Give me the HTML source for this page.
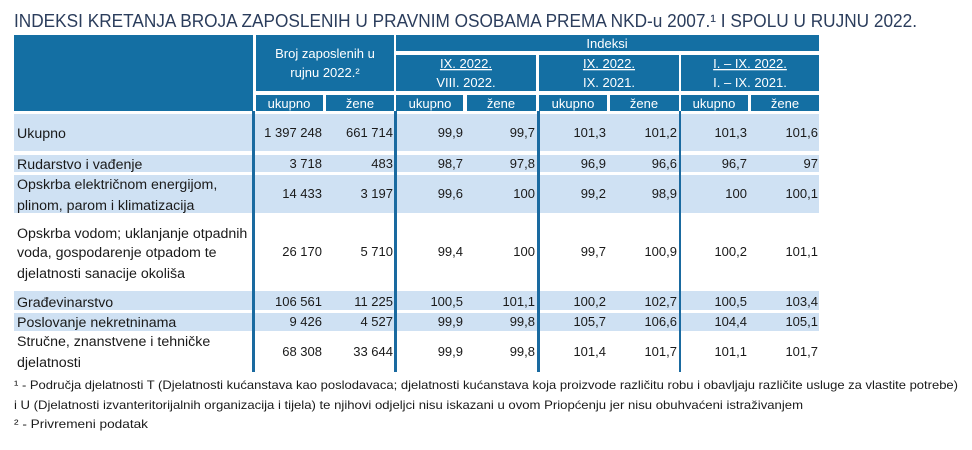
<!DOCTYPE html>
<html><head><meta charset="utf-8"><style>
html,body{margin:0;padding:0;background:#fff;width:972px;height:450px;overflow:hidden}
svg{display:block}
text{font-family:"Liberation Sans",sans-serif}
.h{fill:#fff;font-size:13px;text-anchor:middle}
.d{fill:#1a1a1a;font-size:13px}
.l{fill:#1a1a1a;font-size:14.2px}
.r{text-anchor:end}
.f{fill:#1a1a1a;font-size:12px}
</style></head><body>
<svg width="972" height="450" viewBox="0 0 972 450" xmlns="http://www.w3.org/2000/svg">
<text x="14" y="27" font-size="18" fill="#2b3d5c" textLength="903" lengthAdjust="spacingAndGlyphs">INDEKSI KRETANJA BROJA ZAPOSLENIH U PRAVNIM OSOBAMA PREMA NKD-u 2007.¹ I SPOLU U RUJNU 2022.</text>
<g fill="#146fa3">
<rect x="14" y="35" width="239" height="76"/>
<rect x="256" y="35" width="138" height="56"/>
<rect x="256" y="95" width="67" height="16"/>
<rect x="326" y="95" width="68" height="16"/>
<rect x="396" y="35" width="423" height="16"/>
<rect x="396" y="55" width="140" height="36"/>
<rect x="539" y="55" width="140" height="36"/>
<rect x="681" y="55" width="138" height="36"/>
<rect x="396" y="95" width="67" height="16"/>
<rect x="467" y="95" width="69" height="16"/>
<rect x="539" y="95" width="68" height="16"/>
<rect x="610" y="95" width="69" height="16"/>
<rect x="681" y="95" width="67" height="16"/>
<rect x="751" y="95" width="68" height="16"/>
</g>
<g fill="#cfe1f3">
<rect x="14" y="114" width="805" height="37"/>
<rect x="14" y="155" width="805" height="17"/>
<rect x="14" y="175" width="805" height="38"/>
<rect x="14" y="291" width="805" height="19"/>
<rect x="14" y="313" width="805" height="18"/>
</g>
<g fill="#1a6aa0">
<rect x="252" y="111" width="3" height="261"/>
<rect x="394" y="111" width="3" height="261"/>
<rect x="537" y="111" width="3" height="261"/>
<rect x="679" y="111" width="2" height="261"/>
</g>
<text class="h" x="325" y="58">Broj zaposlenih u</text>
<text class="h" x="325" y="77">rujnu 2022.²</text>
<text class="h" x="607" y="48">Indeksi</text>
<text class="h" x="466" y="68" text-decoration="underline">IX. 2022.</text>
<text class="h" x="466" y="87">VIII. 2022.</text>
<text class="h" x="609" y="68" text-decoration="underline">IX. 2022.</text>
<text class="h" x="609" y="87">IX. 2021.</text>
<text class="h" x="750" y="68" text-decoration="underline">I. – IX. 2022.</text>
<text class="h" x="750" y="87">I. – IX. 2021.</text>
<g>
<text class="h" x="289" y="108">ukupno</text><text class="h" x="360" y="108">žene</text>
<text class="h" x="430" y="108">ukupno</text><text class="h" x="501" y="108">žene</text>
<text class="h" x="573" y="108">ukupno</text><text class="h" x="644" y="108">žene</text>
<text class="h" x="714" y="108">ukupno</text><text class="h" x="785" y="108">žene</text>
</g>
<g class="l">
<text x="17" y="138">Ukupno</text>
<text x="17" y="169">Rudarstvo i vađenje</text>
<text x="17" y="189">Opskrba električnom energijom,</text>
<text x="17" y="210">plinom, parom i klimatizacija</text>
<text x="17" y="238">Opskrba vodom; uklanjanje otpadnih</text>
<text x="17" y="257">voda, gospodarenje otpadom te</text>
<text x="17" y="278">djelatnosti sanacije okoliša</text>
<text x="17" y="307">Građevinarstvo</text>
<text x="17" y="327">Poslovanje nekretninama</text>
<text x="17" y="346">Stručne, znanstvene i tehničke</text>
<text x="17" y="367">djelatnosti</text>
</g>
<g class="d r">
<text x="322" y="137">1 397 248</text><text x="393" y="137">661 714</text><text x="463" y="137">99,9</text><text x="535" y="137">99,7</text><text x="606" y="137">101,3</text><text x="677" y="137">101,2</text><text x="747" y="137">101,3</text><text x="818" y="137">101,6</text>
<text x="322" y="168">3 718</text><text x="393" y="168">483</text><text x="463" y="168">98,7</text><text x="535" y="168">97,8</text><text x="606" y="168">96,9</text><text x="677" y="168">96,6</text><text x="747" y="168">96,7</text><text x="818" y="168">97</text>
<text x="322" y="198">14 433</text><text x="393" y="198">3 197</text><text x="463" y="198">99,6</text><text x="535" y="198">100</text><text x="606" y="198">99,2</text><text x="677" y="198">98,9</text><text x="747" y="198">100</text><text x="818" y="198">100,1</text>
<text x="322" y="256">26 170</text><text x="393" y="256">5 710</text><text x="463" y="256">99,4</text><text x="535" y="256">100</text><text x="606" y="256">99,7</text><text x="677" y="256">100,9</text><text x="747" y="256">100,2</text><text x="818" y="256">101,1</text>
<text x="322" y="306">106 561</text><text x="393" y="306">11 225</text><text x="463" y="306">100,5</text><text x="535" y="306">101,1</text><text x="606" y="306">100,2</text><text x="677" y="306">102,7</text><text x="747" y="306">100,5</text><text x="818" y="306">103,4</text>
<text x="322" y="326">9 426</text><text x="393" y="326">4 527</text><text x="463" y="326">99,9</text><text x="535" y="326">99,8</text><text x="606" y="326">105,7</text><text x="677" y="326">106,6</text><text x="747" y="326">104,4</text><text x="818" y="326">105,1</text>
<text x="322" y="356">68 308</text><text x="393" y="356">33 644</text><text x="463" y="356">99,9</text><text x="535" y="356">99,8</text><text x="606" y="356">101,4</text><text x="677" y="356">101,7</text><text x="747" y="356">101,1</text><text x="818" y="356">101,7</text>
</g>
<text class="f" x="14" y="389" textLength="944" lengthAdjust="spacingAndGlyphs">¹ - Područja djelatnosti T (Djelatnosti kućanstava kao poslodavaca; djelatnosti kućanstava koja proizvode različitu robu i obavljaju različite usluge za vlastite potrebe)</text>
<text class="f" x="14" y="409" textLength="789" lengthAdjust="spacingAndGlyphs">i U (Djelatnosti izvanteritorijalnih organizacija i tijela) te njihovi odjeljci nisu iskazani u ovom Priopćenju jer nisu obuhvaćeni istraživanjem</text>
<text class="f" x="14" y="428" textLength="134" lengthAdjust="spacingAndGlyphs">² - Privremeni podatak</text>
</svg>
</body></html>
